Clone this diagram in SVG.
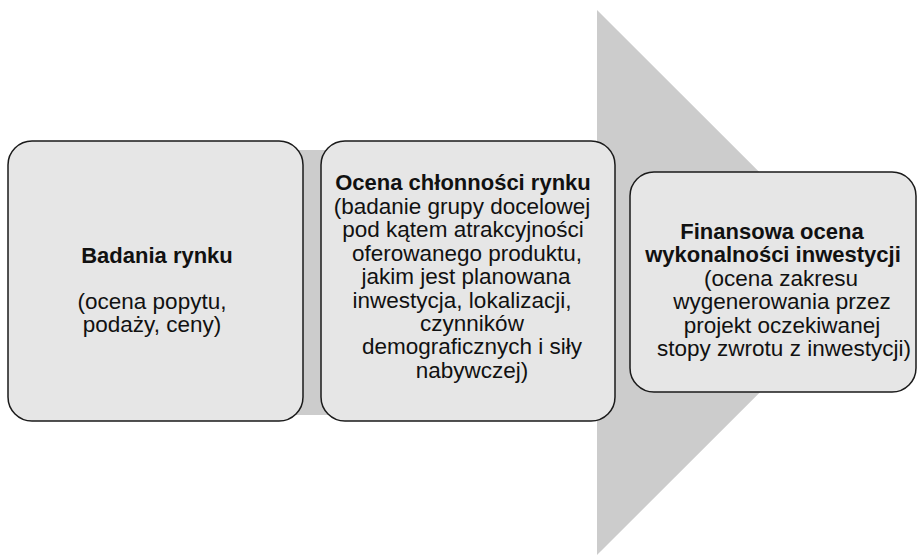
<svg xmlns="http://www.w3.org/2000/svg" width="917" height="555" viewBox="0 0 917 555">
<style>
.box{fill:#e6e6e6;stroke:#1a1a1a;stroke-width:1.5}
.t{font-family:"Liberation Sans",Arial,sans-serif;font-size:22.5px;fill:#111;text-anchor:middle}
.b{font-weight:bold;font-size:22px}
</style>
<rect width="917" height="555" fill="#ffffff"/>
<g id="connectors">
<polygon points="20,150 597,150 597,10 870,282.5 597,555 597,415 20,415" fill="#cccccc"/>
</g>
<g id="node1">
<rect class="box" x="8" y="141" width="295" height="280" rx="24" ry="24"/>
<text class="t b" x="157" y="263">Badania rynku</text>
<text class="t" x="152" y="309">(ocena popytu,</text>
<text class="t" x="152" y="332">podaży, ceny)</text>
</g>
<g id="node2">
<rect class="box" x="321" y="141" width="294" height="280" rx="24" ry="24"/>
<text class="t b" x="463" y="190">Ocena chłonności rynku</text>
<text class="t" x="462" y="214">(badanie grupy docelowej</text>
<text class="t" x="463" y="237.4">pod kątem atrakcyjności</text>
<text class="t" x="467" y="260.8">oferowanego produktu,</text>
<text class="t" x="466" y="284.2">jakim jest planowana</text>
<text class="t" x="462" y="307.6">inwestycja, lokalizacji,</text>
<text class="t" x="472" y="331">czynników</text>
<text class="t" x="472" y="354.4">demograficznych i siły</text>
<text class="t" x="472" y="377.8">nabywczej)</text>
</g>
<g id="node3">
<rect class="box" x="630" y="172" width="286" height="220" rx="24" ry="24"/>
<text class="t b" x="772" y="239">Finansowa ocena</text>
<text class="t b" x="773" y="262.4">wykonalności inwestycji</text>
<text class="t" x="781" y="285.8">(ocena zakresu</text>
<text class="t" x="782" y="309.2">wygenerowania przez</text>
<text class="t" x="782" y="332.6">projekt oczekiwanej</text>
<text class="t" x="784" y="356">stopy zwrotu z inwestycji)</text>
</g>
</svg>
